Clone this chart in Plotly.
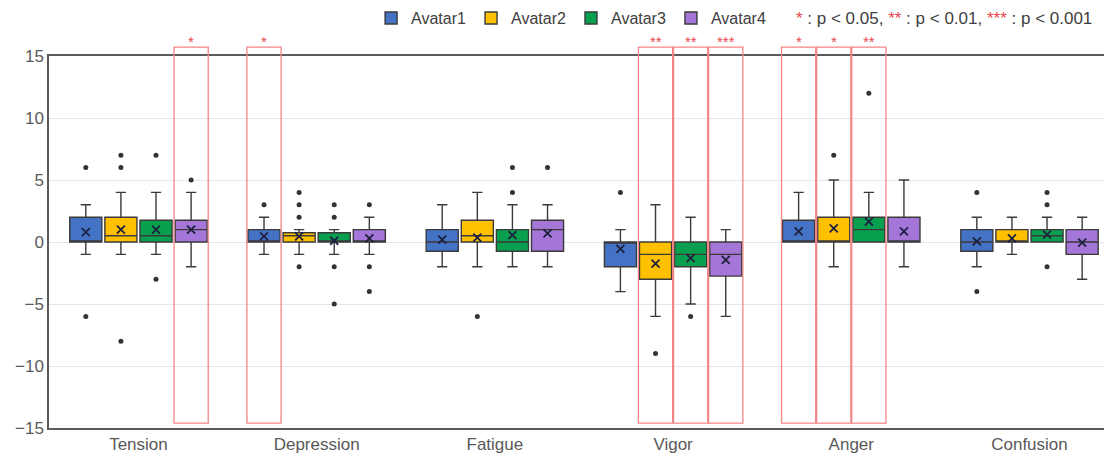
import plotly.graph_objects as go

categories = ["Tension", "Depression", "Fatigue", "Vigor", "Anger", "Confusion"]
avatars = ["Avatar1", "Avatar2", "Avatar3", "Avatar4"]
colors = ["#4472C4", "#FFC000", "#08A04E", "#A476D8"]

q1 = {
    "Avatar1": [0, 0, -0.75, -2, 0, -0.75],
    "Avatar2": [0, 0, 0, -3, 0, 0],
    "Avatar3": [0, 0, -0.75, -2, 0, 0],
    "Avatar4": [0, 0, -0.75, -2.75, 0, -1],
}
median = {
    "Avatar1": [0, 0, 0, 0, 0, 0],
    "Avatar2": [0.5, 0.5, 0.5, -1, 0, 0],
    "Avatar3": [0.5, 0, 0, -1, 1, 0.5],
    "Avatar4": [1, 0, 1, -1, 0, 0],
}
q3 = {
    "Avatar1": [2, 1, 1, 0, 1.75, 1],
    "Avatar2": [2, 0.75, 1.75, 0, 2, 1],
    "Avatar3": [1.75, 0.75, 1, 0, 2, 1],
    "Avatar4": [1.75, 1, 1.75, 0, 2, 1],
}
lower = {
    "Avatar1": [-1, -1, -2, -4, 0, -2],
    "Avatar2": [-1, -1, -2, -6, -2, -1],
    "Avatar3": [-1, -1, -2, -5, 0, 0],
    "Avatar4": [-2, -1, -2, -6, -2, -3],
}
upper = {
    "Avatar1": [3, 2, 3, 1, 4, 2],
    "Avatar2": [4, 1, 4, 3, 5, 2],
    "Avatar3": [4, 1, 3, 2, 4, 2],
    "Avatar4": [4, 2, 3, 1, 5, 2],
}
means = {
    "Avatar1": [0.8, 0.45, 0.2, -0.55, 0.85, 0.05],
    "Avatar2": [1.0, 0.45, 0.35, -1.75, 1.1, 0.3],
    "Avatar3": [1.0, 0.1, 0.55, -1.3, 1.65, 0.6],
    "Avatar4": [1.0, 0.3, 0.7, -1.45, 0.85, -0.05],
}
outlier_cats = {
    "Avatar1": ["Tension", "Tension", "Depression", "Vigor", "Confusion", "Confusion"],
    "Avatar2": ["Tension", "Tension", "Tension", "Depression", "Depression", "Depression",
                "Depression", "Fatigue", "Vigor", "Anger"],
    "Avatar3": ["Tension", "Tension", "Depression", "Depression", "Depression", "Depression",
                "Fatigue", "Fatigue", "Vigor", "Anger", "Confusion", "Confusion", "Confusion"],
    "Avatar4": ["Tension", "Depression", "Depression", "Depression", "Fatigue"],
}
outlier_vals = {
    "Avatar1": [6, -6, 3, 4, 4, -4],
    "Avatar2": [7, 6, -8, 4, 3, 2, -2, -6, -9, 7],
    "Avatar3": [7, -3, 3, 2, -2, -5, 6, 4, -6, 12, 4, 3, -2],
    "Avatar4": [5, 3, -2, -4, 6],
}
sig_cats = ["Tension", "Depression", "Vigor", "Vigor", "Vigor", "Anger", "Anger", "Anger"]
sig_avatars = ["Avatar4", "Avatar1", "Avatar2", "Avatar3", "Avatar4", "Avatar1", "Avatar2", "Avatar3"]
sig_stars = ["*", "*", "**", "**", "***", "*", "*", "**"]

y_ticks = [-15, -10, -5, 0, 5, 10, 15]

STEP = 0.197
BOXW = 0.18


def pos(cat, av):
    return categories.index(cat) + (avatars.index(av) - 1.5) * STEP


fig = go.Figure()
for av, col in zip(avatars, colors):
    xs = [pos(c, av) for c in categories]
    fig.add_trace(go.Box(
        name=av, x=xs, q1=q1[av], median=median[av], q3=q3[av],
        lowerfence=lower[av], upperfence=upper[av],
        boxpoints=False, width=BOXW, whiskerwidth=0.32,
        fillcolor=col, line=dict(color="#3a3a3a", width=1.4),
        marker=dict(color=col), legendgroup=av,
    ))
for av in avatars:
    fig.add_trace(go.Scatter(
        x=[pos(c, av) for c in categories], y=means[av], mode="markers",
        marker=dict(symbol="x-thin", size=8, line=dict(color="#1e2140", width=1.8)),
        showlegend=False, hoverinfo="skip",
    ))
    fig.add_trace(go.Scatter(
        x=[pos(c, av) for c in outlier_cats[av]], y=outlier_vals[av], mode="markers",
        marker=dict(size=5, color="#333333"),
        showlegend=False, hoverinfo="skip",
    ))

half = 0.096
for c, av, s in zip(sig_cats, sig_avatars, sig_stars):
    p = pos(c, av)
    fig.add_shape(type="rect", xref="x", yref="paper", x0=p - half, x1=p + half,
                  y0=0.013, y1=1.024, line=dict(color="#F28585", width=1.3),
                  fillcolor="rgba(0,0,0,0)", layer="above")
    fig.add_annotation(xref="x", yref="paper", x=p, y=1.011, text=s, showarrow=False,
                       yanchor="bottom", font=dict(size=15, color="#E8494E",
                                                   family="Liberation Sans, Arial"))

fig.add_annotation(
    xref="paper", yref="paper", x=0.9835, y=1.102, xanchor="right", yanchor="middle",
    showarrow=False,
    text=("<span style='color:#E8494E'>*</span> : p &lt; 0.05, "
          "<span style='color:#E8494E'>**</span> : p &lt; 0.01, "
          "<span style='color:#E8494E'>***</span> : p &lt; 0.001"),
    font=dict(size=17, color="#404040", family="Liberation Sans, Arial"),
)

fig.update_layout(
    width=1104, height=451,
    margin=dict(l=41, r=0, t=48, b=31, autoexpand=False),
    paper_bgcolor="white", plot_bgcolor="white",
    font=dict(family="Liberation Sans, Arial", color="#595959"),
    showlegend=True,
    legend=dict(orientation="h", x=0.303, y=1.102, xanchor="left", yanchor="middle",
                font=dict(size=16, color="#404040"), itemwidth=30,
                bgcolor="rgba(0,0,0,0)", traceorder="normal"),
    xaxis=dict(range=[-0.502, 5.463], tickmode="array",
               tickvals=list(range(len(categories))), ticktext=categories,
               showgrid=False, zeroline=False, showline=True, mirror=True,
               linecolor="#5a5a5a", linewidth=1.5, ticks="",
               tickfont=dict(size=17, color="#595959")),
    yaxis=dict(range=[-15, 15], tickvals=y_ticks, showgrid=True, gridcolor="#e6e6e6",
               gridwidth=1, zeroline=False, showline=True, linecolor="#5a5a5a",
               linewidth=1.5, ticks="", tickfont=dict(size=17, color="#595959")),
)

fig.write_html("out.html")
